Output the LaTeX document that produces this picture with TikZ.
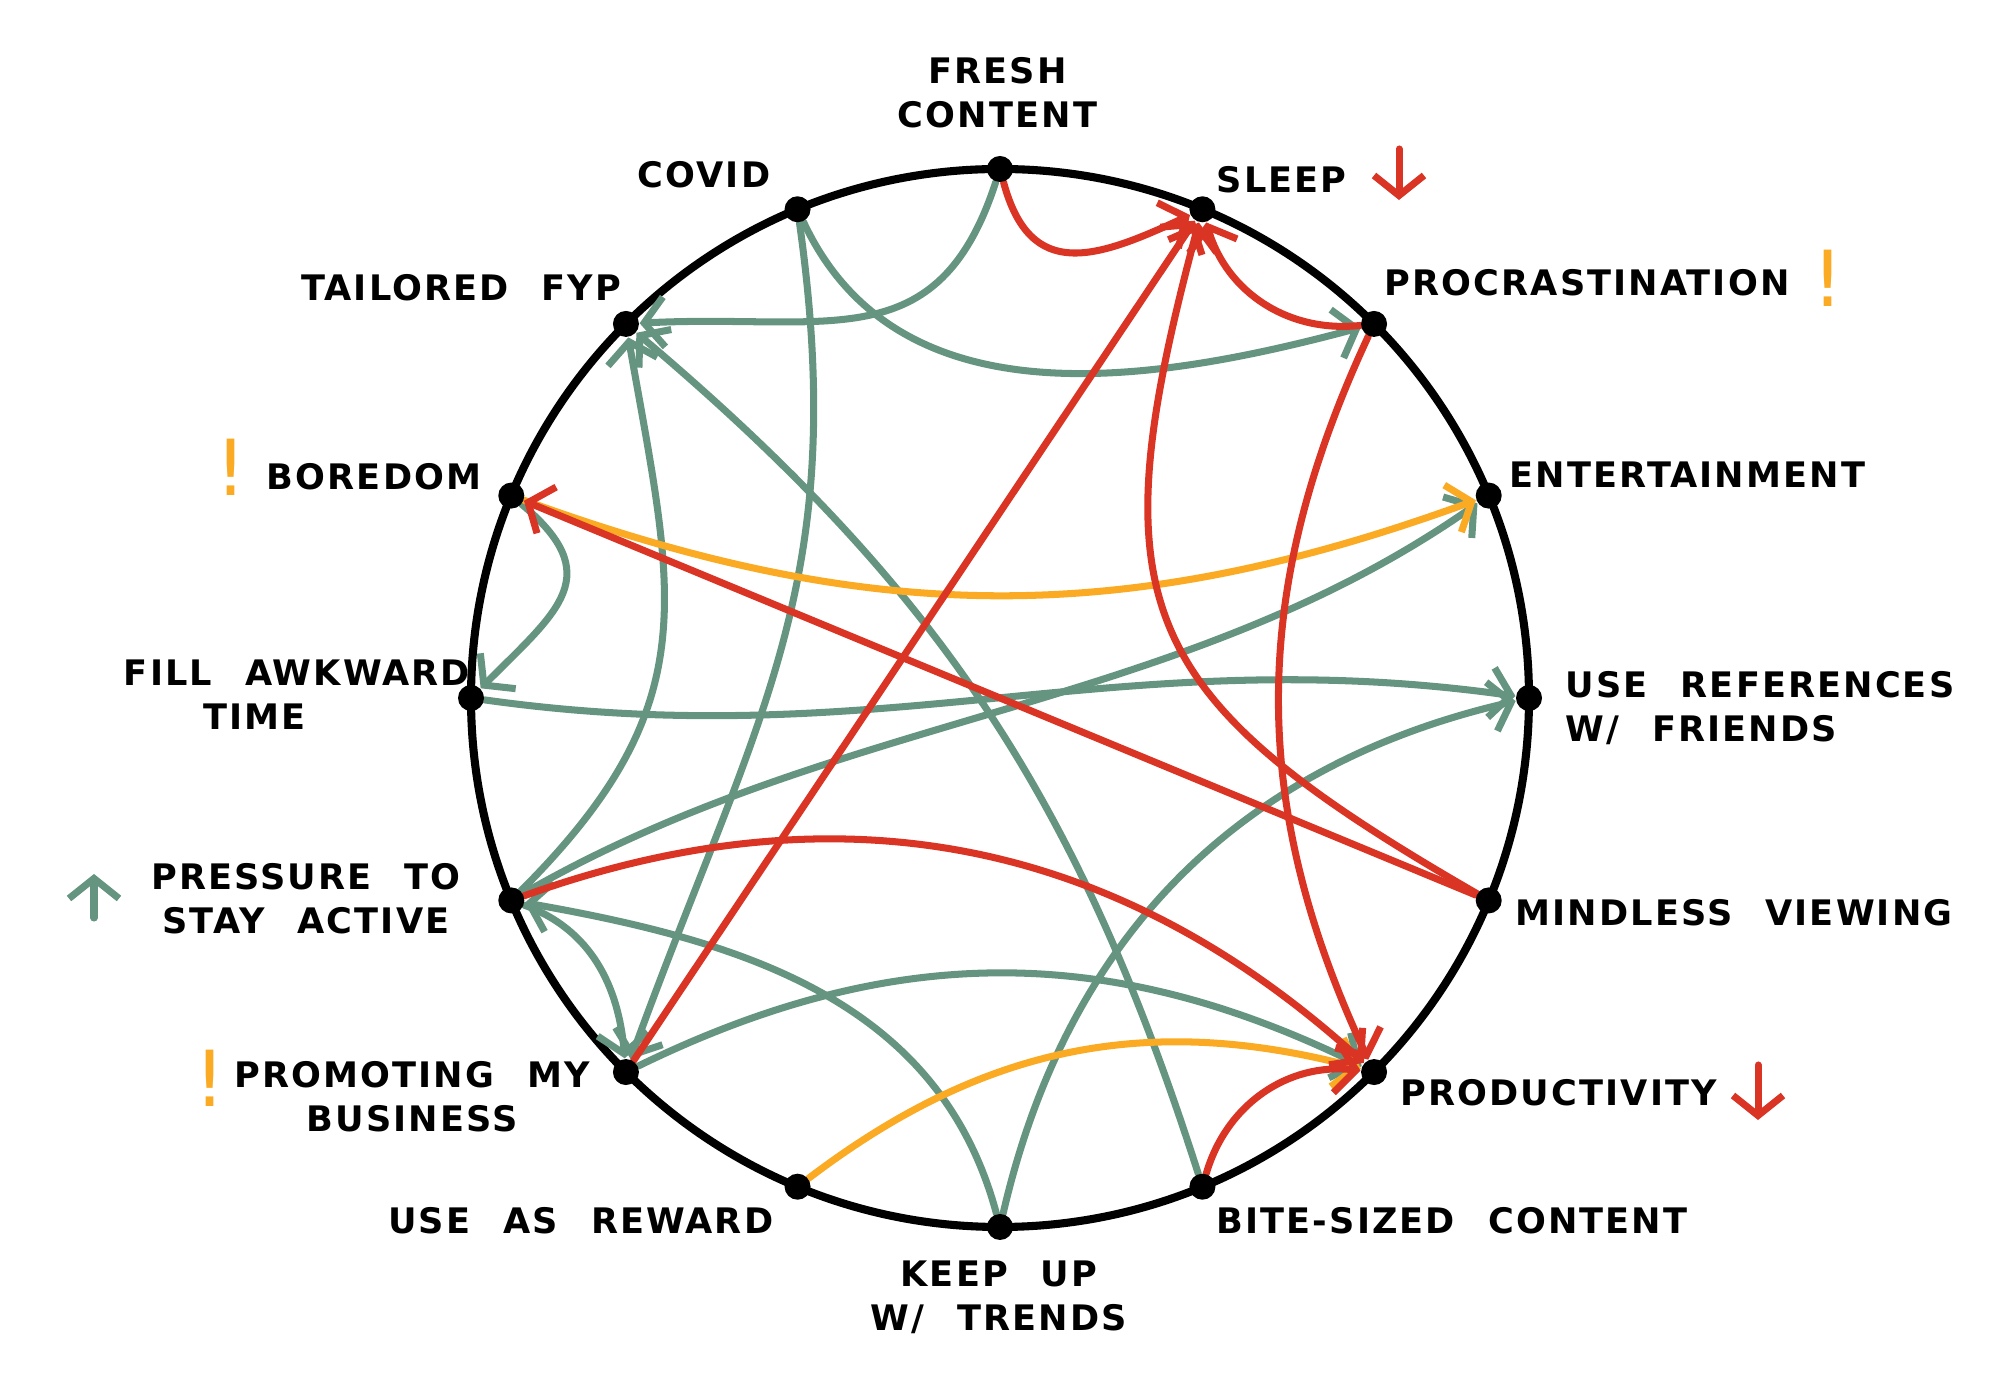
\documentclass[tikz,border=0pt]{standalone}
\usepackage{fontspec}
\setmainfont{DejaVu Sans}[LetterSpace=6,WordSpace=2.3]
\usetikzlibrary{arrows.meta}
\definecolor{sage}{RGB}{101,148,128}
\definecolor{brick}{RGB}{218,52,37}
\definecolor{marigold}{RGB}{250,170,35}

\begin{document}
\begin{tikzpicture}[
    dot/.style={circle, inner sep=0pt, minimum size=0.26cm},
    link/.style={line width=2pt, line cap=round, -{Straight Barb[length=2mm,width=5mm]}},
    lbl/.style={font=\fontsize{10}{12.6}\selectfont\bfseries, inner sep=0pt},
    bang/.style={font=\fontsize{22}{22}\selectfont, text=marigold, inner sep=0pt}
  ]
  \useasboundingbox (0,0) rectangle (20,13.97);

  % Ring
  \coordinate (c) at (10,6.99);
  \draw[line width=2.3pt] (c) circle (5.29);
  \begin{scope}[shift={(10,6.99)}]
    \foreach \n [count=\i from 0] in {fresh,sleep,procr,entert,refs,mindless,product,bitesize,keepup,reward,promote,pressure,fillawk,boredom,tailored,covid}
      \node[dot] (\n) at ({90-22.5*\i}:5.29) {};
  \end{scope}

  % Green links
  \draw[link, sage] (fresh) to[out=-108,in=3,looseness=1.25] (tailored);
  \draw[link, sage] (covid) to[out=-65,in=195] (procr);
  \draw[link, sage] (covid) to[out=-82,in=70,looseness=1.1] (promote);
  \draw[link, sage] (bitesize) to[bend right=16] (tailored);
  \draw[link, sage] (pressure) to[out=45,in=-80,looseness=1.2] (tailored);
  \draw[link, sage] (boredom) to[out=-40,in=45,looseness=1.5] (fillawk);
  \draw[link, sage] (fillawk) to[out=-8,in=172] (refs);
  \draw[link, sage] (pressure) to[out=30,in=-145,looseness=0.9] (entert);
  \draw[link, sage] (keepup) to[bend left=32] (refs);
  \draw[link, sage] (keepup) to[out=105,in=-10] (pressure);
  \draw[link, sage] (pressure) to[out=-20,in=95] (promote);
  \draw[link, sage] (promote) to[bend left=26] (product);

  % Yellow links
  \draw[link, marigold] (boredom) to[bend right=20] (entert);
  \draw[link, marigold] (reward) to[bend left=26] (product);

  % Red links
  \draw[link, brick] (fresh) to[out=-75,in=-155,looseness=1.4] (sleep);
  \draw[link, brick] (procr) to[bend left=40] (sleep);
  \draw[link, brick] (promote) -- (sleep);
  \draw[link, brick] (mindless) to[out=150,in=-105,looseness=1.4] (sleep);
  \draw[link, brick] (procr) to[bend right=25] (product);
  \draw[link, brick] (mindless) -- (boredom);
  \draw[link, brick] (pressure) to[bend left=31] (product);
  \draw[link, brick] (bitesize) to[bend left=40] (product);

  % Dots on top
  \foreach \n in {fresh,sleep,procr,entert,refs,mindless,product,bitesize,keepup,reward,promote,pressure,fillawk,boredom,tailored,covid}
    \fill (\n) circle (0.13);

  % Labels
  \node[lbl, align=center] (tfresh) at (9.975,13.04) {FRESH\\CONTENT};
  \node[lbl] (tcovid) at (7.04,12.22) {COVID};
  \node[lbl, anchor=west] (tsleep) at (12.16,12.17) {SLEEP};
  \node[lbl, anchor=west] (tprocr) at (13.84,11.14) {PROCRASTINATION};
  \node[lbl, anchor=west] (tentert) at (15.09,9.22) {ENTERTAINMENT};
  \node[lbl, anchor=west, align=left] (trefs) at (15.65,6.89) {USE REFERENCES\\W/ FRIENDS};
  \node[lbl, anchor=west] (tmindless) at (15.15,4.84) {MINDLESS VIEWING};
  \node[lbl, anchor=west] (tproduct) at (14.0,3.04) {PRODUCTIVITY};
  \node[lbl, anchor=west] (tbitesize) at (12.16,1.76) {BITE-SIZED CONTENT};
  \node[lbl, align=center] (tkeepup) at (9.99,1.0) {KEEP UP\\W/ TRENDS};
  \node[lbl, anchor=east] (treward) at (7.74,1.76) {USE AS REWARD};
  \node[lbl, align=center] (tpromote) at (4.12,3.0) {PROMOTING MY\\BUSINESS};
  \node[lbl, align=center] (tpressure) at (3.06,4.98) {PRESSURE TO\\STAY ACTIVE};
  \node[lbl, align=center] (tfillawk) at (2.97,7.02) {FILL AWKWARD\\TIME\hspace*{2.4em}};
  \node[lbl, anchor=east] (tboredom) at (4.82,9.2) {BOREDOM};
  \node[lbl, anchor=east] (ttailored) at (6.22,11.09) {TAILORED FYP};

  % Markers
  \coordinate (sleeptop) at (13.99,12.48);
  \coordinate (sleepbot) at (13.99,11.97);
  \draw[link, brick] (sleeptop) -- (sleepbot);
  \coordinate (prodtop) at (17.58,3.32);
  \coordinate (prodbot) at (17.58,2.77);
  \draw[link, brick] (prodtop) -- (prodbot);
  \coordinate (presbot) at (0.94,4.79);
  \coordinate (prestop) at (0.94,5.23);
  \draw[link, sage] (presbot) -- (prestop);
  \node[bang] (bprocr) at (18.28,11.19) {!};
  \node[bang] (bboredom) at (2.31,9.30) {!};
  \node[bang] (bpromote) at (2.10,3.19) {!};
\end{tikzpicture}
\end{document}
